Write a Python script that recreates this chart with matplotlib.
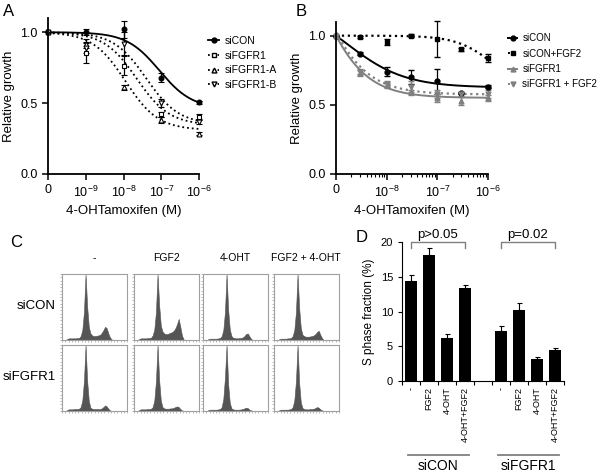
import numpy as np
import matplotlib
matplotlib.use('Agg')
import matplotlib.pyplot as plt

plt.rcParams['font.family'] = ['Liberation Sans', 'DejaVu Sans']
plt.rcParams['mathtext.default'] = 'regular'

GRAY = '#808080'

# ---- Panel A: growth vs 4-OHT, "0" drawn at 1e-10 ----
a_dose = [1e-10, 1e-9, 1e-8, 1e-7, 1e-6]
a_sicon = [1.0, 1.0, 1.02, 0.68, 0.505]
a_sicon_err = [0.0, 0.02, 0.06, 0.03, 0.01]
a_sifgfr1 = [1.0, 0.855, 0.765, 0.42, 0.40]
a_sifgfr1_err = [0.0, 0.07, 0.07, 0.02, 0.02]
a_sifgfr1a = [1.0, 0.92, 0.61, 0.38, 0.285]
a_sifgfr1a_err = [0.0, 0.03, 0.02, 0.02, 0.01]
a_sifgfr1b = [1.0, 0.89, 0.92, 0.50, 0.37]
a_sifgfr1b_err = [0.0, 0.04, 0.08, 0.03, 0.02]
# fitted curves: (top, bottom, logEC50, hill)
a_fit_sicon = (1.0, 0.46, -7.05, 1.0)
a_fit_sifgfr1 = (1.0, 0.345, -7.65, 1.0)
a_fit_sifgfr1a = (1.0, 0.31, -7.95, 1.0)
a_fit_sifgfr1b = (1.0, 0.35, -7.4, 1.0)

# ---- Panel B: "0" drawn at 1e-9 ----
b_dose = [1e-9, 3e-9, 1e-8, 3e-8, 1e-7, 3e-7, 1e-6]
b_sicon = [1.0, 0.87, 0.74, 0.70, 0.67, 0.585, 0.63]
b_sicon_err = [0.0, 0.01, 0.03, 0.05, 0.09, 0.01, 0.01]
b_sicon_fgf2 = [1.0, 0.99, 0.955, 1.0, 0.975, 0.90, 0.84]
b_sicon_fgf2_err = [0.0, 0.01, 0.02, 0.01, 0.13, 0.01, 0.03]
b_sifgfr1 = [1.0, 0.73, 0.64, 0.59, 0.55, 0.53, 0.55]
b_sifgfr1_err = [0.0, 0.02, 0.02, 0.02, 0.03, 0.03, 0.02]
b_sifgfr1_fgf2 = [1.0, 0.74, 0.65, 0.63, 0.58, 0.575, 0.58]
b_sifgfr1_fgf2_err = [0.0, 0.02, 0.02, 0.04, 0.03, 0.02, 0.03]
b_fit_sicon = (1.2655, 0.625, -8.8, 0.75)
b_fit_sicon_fgf2 = (1.0, 0.6, -5.9, 1.2)
b_fit_sifgfr1 = (2.269, 0.55, -9.5, 0.9)
b_fit_sifgfr1_fgf2 = (2.2985, 0.575, -9.5, 0.9)

# ---- Panel C: DNA content histograms (40 channels, scaled to G1 peak) ----
c_rows = ['siCON', 'siFGFR1']
c_cols = ['-', 'FGF2', '4-OHT', 'FGF2 + 4-OHT']
c_hist = [
    [
        [0, 0, 0, .02, .025, .025, .025, .025, .025, .03, .03, .06, .15, .42, 1.0, .5, .2, .1, .07, .06,
         .06, .065, .07, .08, .11, .15, .2, .18, .1, .04, .01, 0, 0, 0, 0, 0, 0, 0, 0, 0],
        [0, 0, 0, .02, .025, .025, .025, .025, .03, .03, .035, .07, .16, .42, 1.0, .52, .22, .13, .1, .09,
         .09, .10, .11, .12, .14, .18, .24, .32, .2, .07, .01, 0, 0, 0, 0, 0, 0, 0, 0, 0],
        [0, 0, 0, .015, .02, .02, .02, .02, .02, .025, .03, .06, .15, .42, 1.0, .45, .16, .06, .035, .03,
         .025, .025, .03, .03, .04, .06, .09, .1, .06, .02, 0, 0, 0, 0, 0, 0, 0, 0, 0, 0],
        [0, 0, 0, .015, .02, .02, .02, .02, .025, .025, .03, .06, .15, .42, 1.0, .48, .18, .08, .06, .05,
         .05, .05, .055, .06, .07, .09, .12, .14, .08, .03, 0, 0, 0, 0, 0, 0, 0, 0, 0, 0],
    ],
    [
        [0, 0, 0, .02, .025, .025, .025, .03, .03, .03, .035, .06, .16, .45, 1.0, .45, .15, .05, .035, .03,
         .03, .03, .03, .03, .04, .06, .085, .07, .035, .01, 0, 0, 0, 0, 0, 0, 0, 0, 0, 0],
        [0, 0, 0, .02, .025, .025, .025, .025, .03, .03, .035, .06, .16, .45, 1.0, .46, .16, .06, .04, .035,
         .035, .035, .04, .04, .05, .06, .07, .06, .03, .01, 0, 0, 0, 0, 0, 0, 0, 0, 0, 0],
        [0, 0, 0, .015, .02, .02, .02, .02, .02, .025, .03, .06, .18, .5, 1.0, .4, .12, .04, .025, .02,
         .02, .02, .02, .025, .03, .04, .05, .045, .02, .01, 0, 0, 0, 0, 0, 0, 0, 0, 0, 0],
        [0, 0, 0, .015, .02, .02, .02, .02, .02, .025, .03, .06, .16, .45, 1.0, .42, .13, .045, .03, .025,
         .025, .025, .03, .03, .035, .045, .06, .05, .025, .01, 0, 0, 0, 0, 0, 0, 0, 0, 0, 0],
    ],
]

# ---- Panel D: S phase fraction ----
d_groups = ['siCON', 'siFGFR1']
d_labels = ['-', 'FGF2', '4-OHT', '4-OHT+FGF2']
d_sicon = [14.4, 18.1, 6.2, 13.4]
d_sicon_err = [0.9, 1.0, 0.6, 0.4]
d_sifgfr1 = [7.2, 10.2, 3.2, 4.5]
d_sifgfr1_err = [0.7, 1.0, 0.3, 0.3]
d_pvalues = ['p>0.05', 'p=0.02']


def logistic(lx, p):
    top, bottom, c, h = p
    return bottom + (top - bottom) / (1 + 10 ** (h * (lx - c)))


def style_dose_axis(ax, xmin):
    ax.set_xscale('log')
    ax.set_xlim(xmin, 1e-6)
    ax.set_ylim(0, 1.1)
    for s in ['top', 'right']:
        ax.spines[s].set_visible(False)
    for s in ['left', 'bottom']:
        ax.spines[s].set_linewidth(1.3)
    ax.tick_params(which='major', length=4, width=1.1, labelsize=9)
    ax.tick_params(which='minor', length=2, width=0.8)
    ax.set_yticks([0, 0.5, 1.0])
    ax.set_yticklabels(['0.0', '0.5', '1.0'])
    ax.set_ylabel('Relative growth', fontsize=9.5)
    ax.set_xlabel('4-OHTamoxifen (M)', fontsize=9.5)


fig = plt.figure(figsize=(6, 4.74), dpi=100)

# Panel A
axA = fig.add_axes([0.08, 0.633, 0.2517, 0.329])
style_dose_axis(axA, 1e-10)
axA.set_xticks([1e-10, 1e-9, 1e-8, 1e-7, 1e-6])
axA.set_xticklabels(['0', '$10^{-9}$', '$10^{-8}$', '$10^{-7}$', '$10^{-6}$'])
lx = np.linspace(-10, -6, 200)
a_series = [
    ('siCON', a_sicon, a_sicon_err, a_fit_sicon, '-', 'o', 'black'),
    ('siFGFR1', a_sifgfr1, a_sifgfr1_err, a_fit_sifgfr1, ':', 's', 'white'),
    ('siFGFR1-A', a_sifgfr1a, a_sifgfr1a_err, a_fit_sifgfr1a, ':', '^', 'white'),
    ('siFGFR1-B', a_sifgfr1b, a_sifgfr1b_err, a_fit_sifgfr1b, ':', 'v', 'white'),
]
handles = []
for name, y, e, fit, ls, mk, fc in a_series:
    axA.plot(10 ** lx, logistic(lx, fit), ls, color='black', lw=1.3)
    axA.errorbar(a_dose, y, yerr=e, fmt=mk, ms=3.5, mfc=fc, mec='black',
                 mew=0.8, ecolor='black', elinewidth=0.9, capsize=2.5, clip_on=False)
    h, = axA.plot([], [], ls, marker=mk, ms=3.5, mfc=fc, mec='black', color='black', lw=1.3)
    handles.append(h)
fig.legend(handles, [s[0] for s in a_series], loc='upper left',
           bbox_to_anchor=(0.338, 0.935), frameon=False, fontsize=7.5,
           handlelength=1.1, labelspacing=0.45, borderpad=0, handletextpad=0.5)

# Panel B
axB = fig.add_axes([0.56, 0.633, 0.2533, 0.321])
style_dose_axis(axB, 1e-9)
axB.set_xticks([1e-9, 1e-8, 1e-7, 1e-6])
axB.set_xticklabels(['0', '$10^{-8}$', '$10^{-7}$', '$10^{-6}$'])
lx = np.linspace(-9, -6, 200)
b_series = [
    ('siCON', b_sicon, b_sicon_err, b_fit_sicon, '-', 'o', 'black'),
    ('siCON+FGF2', b_sicon_fgf2, b_sicon_fgf2_err, b_fit_sicon_fgf2, ':', 's', 'black'),
    ('siFGFR1', b_sifgfr1, b_sifgfr1_err, b_fit_sifgfr1, '-', '^', GRAY),
    ('siFGFR1 + FGF2', b_sifgfr1_fgf2, b_sifgfr1_fgf2_err, b_fit_sifgfr1_fgf2, ':', 'v', GRAY),
]
handles = []
for name, y, e, fit, ls, mk, col in b_series:
    axB.plot(10 ** lx, logistic(lx, fit), ls, color=col, lw=1.6 if ls == ':' else 1.4)
    axB.errorbar(b_dose, y, yerr=e, fmt=mk, ms=3.5, mfc=col, mec=col,
                 ecolor=col, elinewidth=0.9, capsize=2.5, clip_on=False)
    h, = axB.plot([], [], ls, marker=mk, ms=3.5, color=col, lw=1.4)
    handles.append(h)
fig.legend(handles, [s[0] for s in b_series], loc='upper left',
           bbox_to_anchor=(0.838, 0.94), frameon=False, fontsize=7,
           handlelength=1.0, labelspacing=0.55, borderpad=0, handletextpad=0.5)

# Panel C
c_left = [62, 134, 203, 274]
c_top = [274, 345]
channels = (np.arange(40) + 0.5) / 40
for r, row in enumerate(c_hist):
    for c, vals in enumerate(row):
        ax = fig.add_axes([c_left[c] / 600, 1 - (c_top[r] + 66) / 474, 65 / 600, 66 / 474])
        ax.fill_between(channels, vals, color='#555555', lw=0.4, edgecolor='#555555')
        ax.set_xlim(0, 1)
        ax.set_ylim(0, 1.0)
        for s in ax.spines.values():
            s.set_color('#a0a0a0')
            s.set_linewidth(0.8)
        ax.set_xticks(np.linspace(0, 1, 21))
        ax.set_yticks(np.linspace(0, 1, 21))
        ax.tick_params(direction='out', length=1.2, width=0.5, color='#a0a0a0',
                       labelbottom=False, labelleft=False)
        if r == 0:
            fig.text((c_left[c] + 32) / 600, 1 - 258 / 474, c_cols[c],
                     ha='center', va='center', fontsize=7.5)
    fig.text(56 / 600, 1 - (c_top[r] + 32) / 474, c_rows[r],
             ha='right', va='center', fontsize=9.5)

# Panel D
axD = fig.add_axes([0.67, 0.196, 0.27, 0.2932])
pos = [0, 1, 2, 3, 5, 6, 7, 8]
vals = d_sicon + d_sifgfr1
errs = d_sicon_err + d_sifgfr1_err
axD.bar(pos, vals, width=0.72, color='black',
        yerr=[np.zeros(len(errs)), errs], capsize=1.8,
        error_kw=dict(elinewidth=0.8, capthick=0.8, ecolor='black'))
axD.set_xlim(-0.5, 8.5)
axD.set_ylim(0, 20)
axD.set_yticks([0, 5, 10, 15, 20])
for s in ['top', 'right']:
    axD.spines[s].set_visible(False)
for s in ['left', 'bottom']:
    axD.spines[s].set_linewidth(0.8)
axD.tick_params(axis='y', labelsize=8, length=3, width=0.8)
axD.set_xticks(pos)
axD.set_xticklabels(d_labels + d_labels, rotation=90, fontsize=6.5)
axD.tick_params(axis='x', which='major', length=0, pad=4)
axD.set_xticks(np.arange(-0.5, 9.0, 1), minor=True)
axD.tick_params(axis='x', which='minor', length=3, width=0.8)
axD.set_ylabel('S phase fraction (%)', fontsize=8.5)

tr = axD.get_xaxis_transform()
for (x0, x1), g in zip([(-0.15, 3.2), (4.85, 8.2)], d_groups):
    axD.plot([x0, x1], [-0.53, -0.53], color=GRAY, lw=1.3, transform=tr, clip_on=False)
    axD.text((x0 + x1) / 2, -0.61, g, transform=tr, ha='center', va='center', fontsize=10)
for (x0, x1), p in zip([(0, 3), (5, 8)], d_pvalues):
    axD.plot([x0, x0, x1, x1], [19.1, 20.0, 20.0, 19.1], color=GRAY, lw=1.0, clip_on=False)
    axD.text((x0 + x1) / 2, 20.1, p, ha='center', va='bottom', fontsize=9.5)

# Panel letters
for letter, x, y in [('A', 3, 12), ('B', 296, 12), ('C', 10, 243), ('D', 356, 237)]:
    fig.text(x / 600, 1 - y / 474, letter, fontsize=12, ha='left', va='center')

fig.savefig('out.png', dpi=100)
